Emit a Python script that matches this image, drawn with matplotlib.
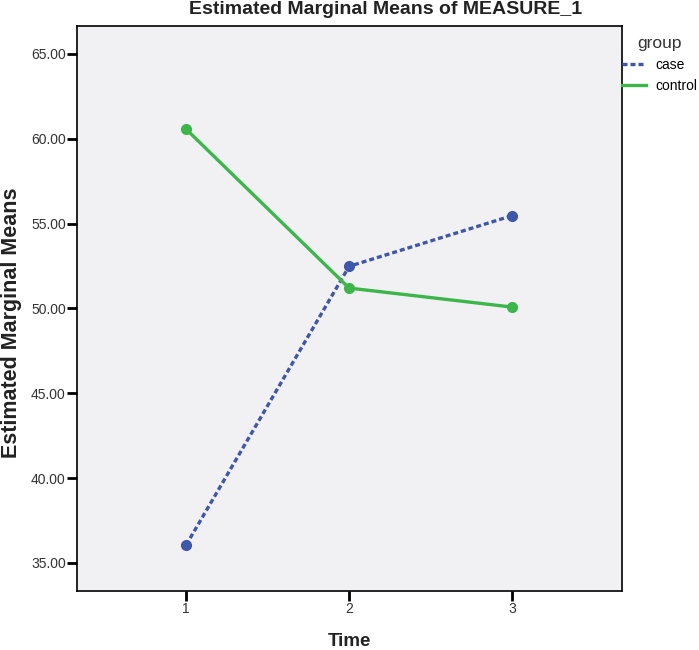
import numpy as np
import matplotlib.pyplot as plt

plt.rcParams['font.family'] = ['Liberation Sans', 'DejaVu Sans']

# data
time = [1, 2, 3]
case = [36.05, 52.48, 55.47]
control = [60.57, 51.2, 50.08]
yticks = [35, 40, 45, 50, 55, 60, 65]

fig = plt.figure(figsize=(6.99, 6.5), dpi=100)
ax = fig.add_axes([0.110, 0.091, 0.780, 0.869])
ax.set_facecolor('#f1f1f3')

ax.plot(time, case, color='#3f57a8', lw=2.4, ls=(0, (1.5, 0.9)), marker='o',
        ms=7, label='case')
ax.plot(time, control, color='#3cb64a', lw=2.4, marker='o', ms=7,
        label='control')

ax.set_xlim(0.33, 3.675)
ax.set_ylim(33.35, 66.65)
ax.set_xticks(time)
ax.set_yticks(yticks)
ax.set_yticklabels([f'{v:.2f}' for v in yticks])
ax.tick_params(axis='both', length=7, width=2, labelsize=10, color='black',
               labelcolor='#333333', pad=1)
for s in ax.spines.values():
    s.set_linewidth(1.2)

ax.set_xlabel('Time', fontsize=13.5, fontweight='bold', color='#222222', labelpad=12)
ax.set_ylabel('Estimated Marginal Means', fontsize=15.5, fontweight='bold',
              color='#222222')
ax.yaxis.set_label_coords(-0.101, 0.475)
fig.text(0.551, 0.999, 'Estimated Marginal Means of MEASURE_1', ha='center', va='top',
         fontsize=14, fontweight='bold', color='#222222')

leg = ax.legend(loc='upper left', bbox_to_anchor=(1.0, 0.982), frameon=False,
                title='group', fontsize=10, title_fontsize=12.5, handlelength=1.75,
                handletextpad=0.65, borderaxespad=0, borderpad=0, labelspacing=0.5)
for h in leg.legend_handles:
    h.set_marker('')
leg.get_title().set_color('#333333')

fig.savefig('out.png', dpi=100)
